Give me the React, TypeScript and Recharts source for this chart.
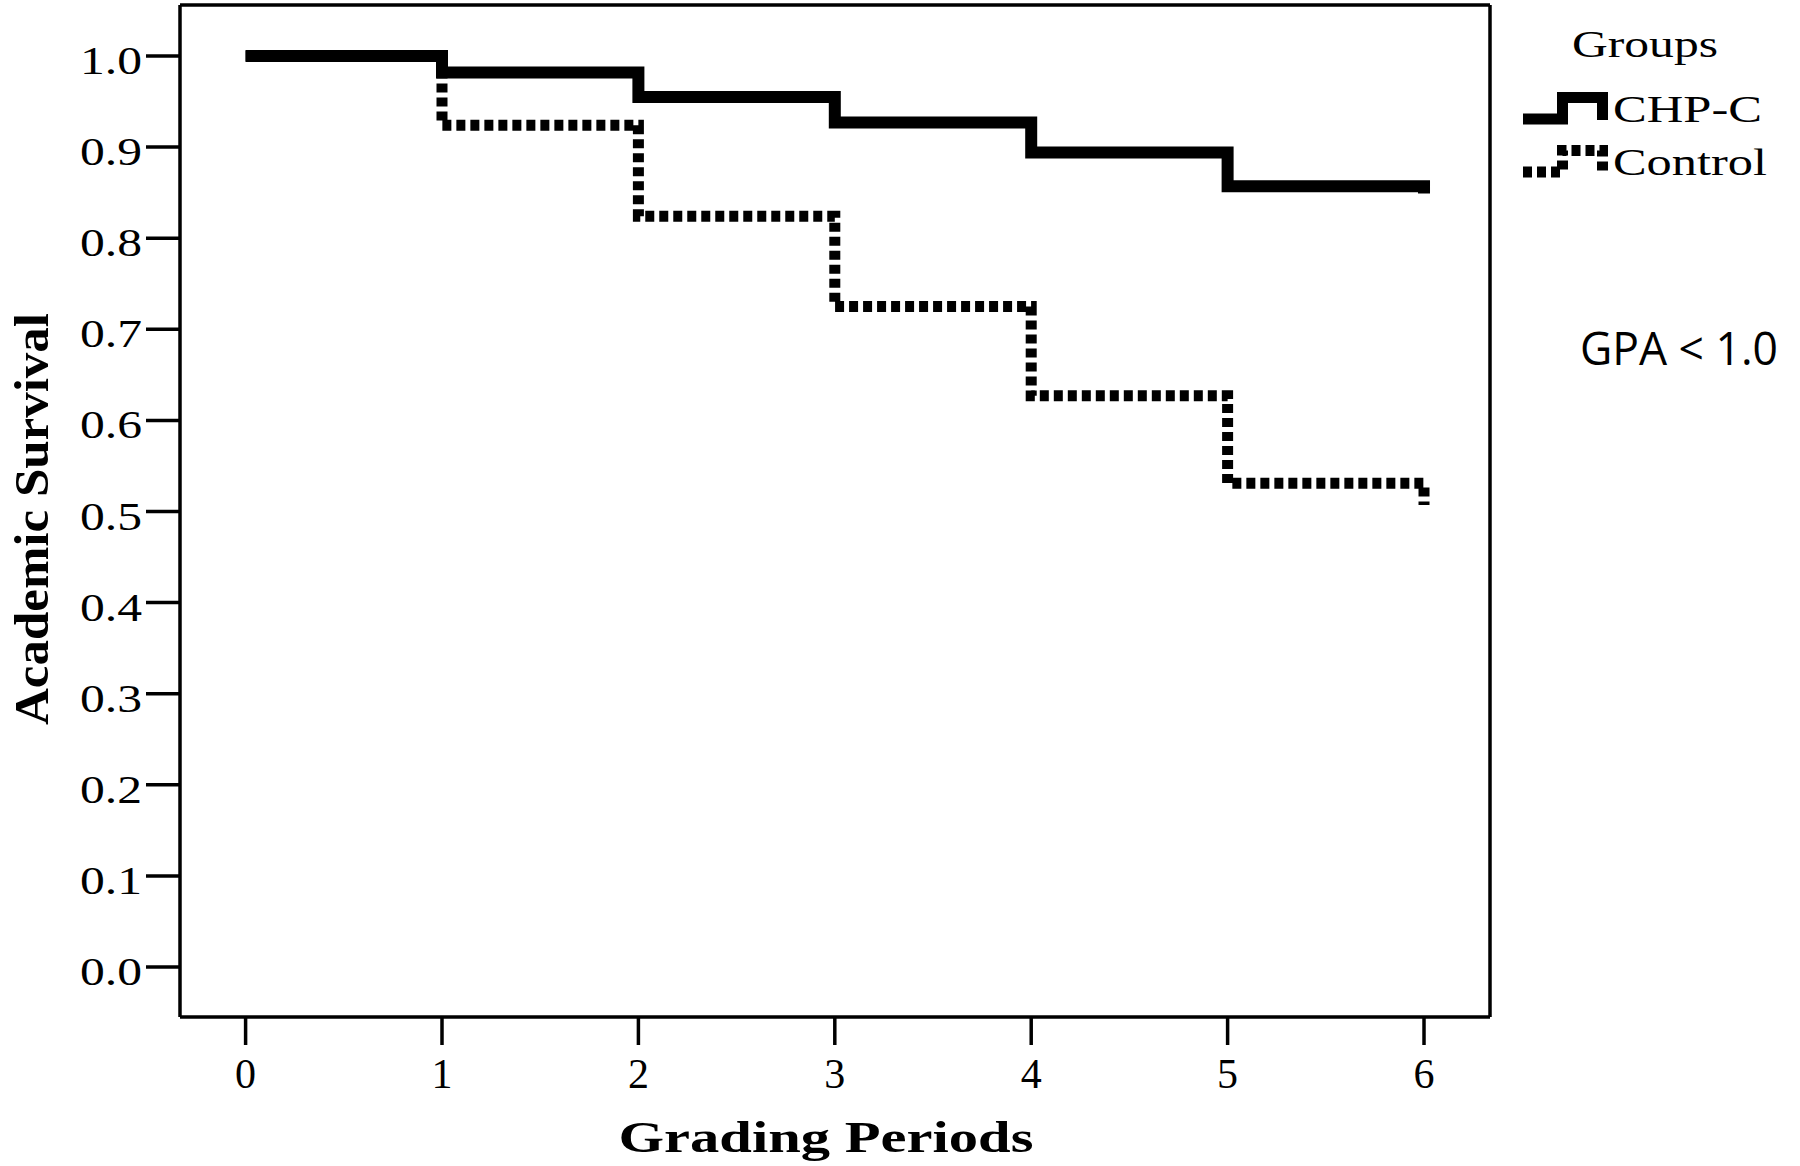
import { LineChart, Line, XAxis, YAxis, Legend, Label } from 'recharts'

// Kaplan-Meier style survival by grading period
const periods = [0, 1, 2, 3, 4, 5, 6]
const chpC = [1.0, 0.982, 0.955, 0.927, 0.894, 0.857, 0.849]
const control = [1.0, 0.924, 0.824, 0.725, 0.627, 0.531, 0.507]
const groups = ['CHP-C', 'Control']
const yTicks = [0, 0.1, 0.2, 0.3, 0.4, 0.5, 0.6, 0.7, 0.8, 0.9, 1.0]
const xTicks = [0, 1, 2, 3, 4, 5, 6]

const data = periods.map((p, i) => ({ period: p, chpC: chpC[i], control: control[i] }))

const SERIF = "'Liberation Serif', 'Times New Roman', serif"
const X_DOMAIN: [number, number] = [-0.334, 6.336]
const Y_DOMAIN: [number, number] = [-0.0549, 1.056]
const DASH = '9 5'
const legendDash = [undefined, DASH]
const frame = { stroke: '#000', strokeWidth: 3.5 }

const YTick = ({ x, y, payload }: any) => (
  <text x={x} y={y + 18} textAnchor="end" fontFamily={SERIF} fontSize={41} fill="#000"
    textLength={62} lengthAdjust="spacingAndGlyphs">
    {Number(payload.value).toFixed(1)}
  </text>
)

const XTick = ({ x, y, payload }: any) => (
  <text x={x} y={y + 41} textAnchor="middle" fontFamily={SERIF} fontSize={42} fill="#000">
    {payload.value}
  </text>
)

const YTitle = ({ viewBox }: any) => {
  const cx = viewBox.x + 48
  const cy = viewBox.y + viewBox.height / 2 + 8
  return (
    <text x={cx} y={cy} transform={`rotate(-90, ${cx}, ${cy})`} textAnchor="middle"
      fontFamily={SERIF} fontWeight="bold" fontSize={48} fill="#000"
      textLength={412} lengthAdjust="spacingAndGlyphs">
      Academic Survival
    </text>
  )
}

const XTitle = ({ viewBox }: any) => (
  <text x={viewBox.x + viewBox.width / 2 - 9} y={viewBox.y + 135} textAnchor="middle"
    fontFamily={SERIF} fontWeight="bold" fontSize={44} fill="#000"
    textLength={415} lengthAdjust="spacingAndGlyphs">
    Grading Periods
  </text>
)

const renderLegend = (props: any) => {
  const payload = props.payload || []
  return (
    <svg width={300} height={400} style={{ display: 'block' }}>
      <text x={72} y={57} fontFamily={SERIF} fontSize={38} fill="#000"
        textLength={146} lengthAdjust="spacingAndGlyphs">Groups</text>
      {payload.map((entry: any, i: number) => {
        const dy = i * 53
        return (
          <g key={entry.value}>
            <path d={`M23,${119 + dy}H62.5V${97.5 + dy}H102.5V${120 + dy}`} fill="none"
              stroke="#000" strokeWidth={11} strokeDasharray={legendDash[i]} />
            <text x={113} y={122 + dy} fontFamily={SERIF} fontSize={38} fill="#000"
              textLength={i === 0 ? 149 : 154} lengthAdjust="spacingAndGlyphs">
              {entry.value}
            </text>
          </g>
        )
      })}
      <text x={80} y={365} fontFamily="'Open Sans', sans-serif" fontSize={46} fill="#000"
        textLength={198} lengthAdjust="spacingAndGlyphs">GPA &lt; 1.0</text>
    </svg>
  )
}

export default function App() {
  return (
    <div>
      <style>{'body{margin:0}'}</style>
      <LineChart width={1800} height={1166} data={data}
        margin={{ top: 4, right: 309, bottom: 0, left: 0 }}>
        <XAxis dataKey="period" type="number" domain={X_DOMAIN} ticks={xTicks} allowDataOverflow
          height={149} tick={XTick} tickSize={28} tickMargin={2}
          axisLine={frame} tickLine={frame}>
          <Label content={XTitle} />
        </XAxis>
        {/* top and right edges close the plot frame */}
        <XAxis xAxisId="top" orientation="top" dataKey="period" type="number" domain={X_DOMAIN}
          allowDataOverflow height={1} tick={false} tickLine={false} axisLine={frame} />
        <YAxis type="number" domain={Y_DOMAIN} ticks={yTicks} allowDataOverflow width={180}
          tick={YTick} tickSize={34} tickMargin={4}
          axisLine={frame} tickLine={frame}>
          <Label content={YTitle} />
        </YAxis>
        <YAxis yAxisId="right" orientation="right" type="number" domain={Y_DOMAIN} allowDataOverflow
          width={1} tick={false} tickLine={false} axisLine={frame} />
        <Legend layout="horizontal" verticalAlign="middle" align="center" content={renderLegend}
          wrapperStyle={{ position: 'absolute', left: 1500, top: 0, width: 300, height: 400 }} />
        <Line type="stepAfter" dataKey="control" name={groups[1]} stroke="#000" strokeWidth={11}
          strokeDasharray={DASH} dot={false} activeDot={false} isAnimationActive={false} />
        <Line type="stepAfter" dataKey="chpC" name={groups[0]} stroke="#000" strokeWidth={12}
          dot={false} activeDot={false} isAnimationActive={false} />
      </LineChart>
    </div>
  )
}
